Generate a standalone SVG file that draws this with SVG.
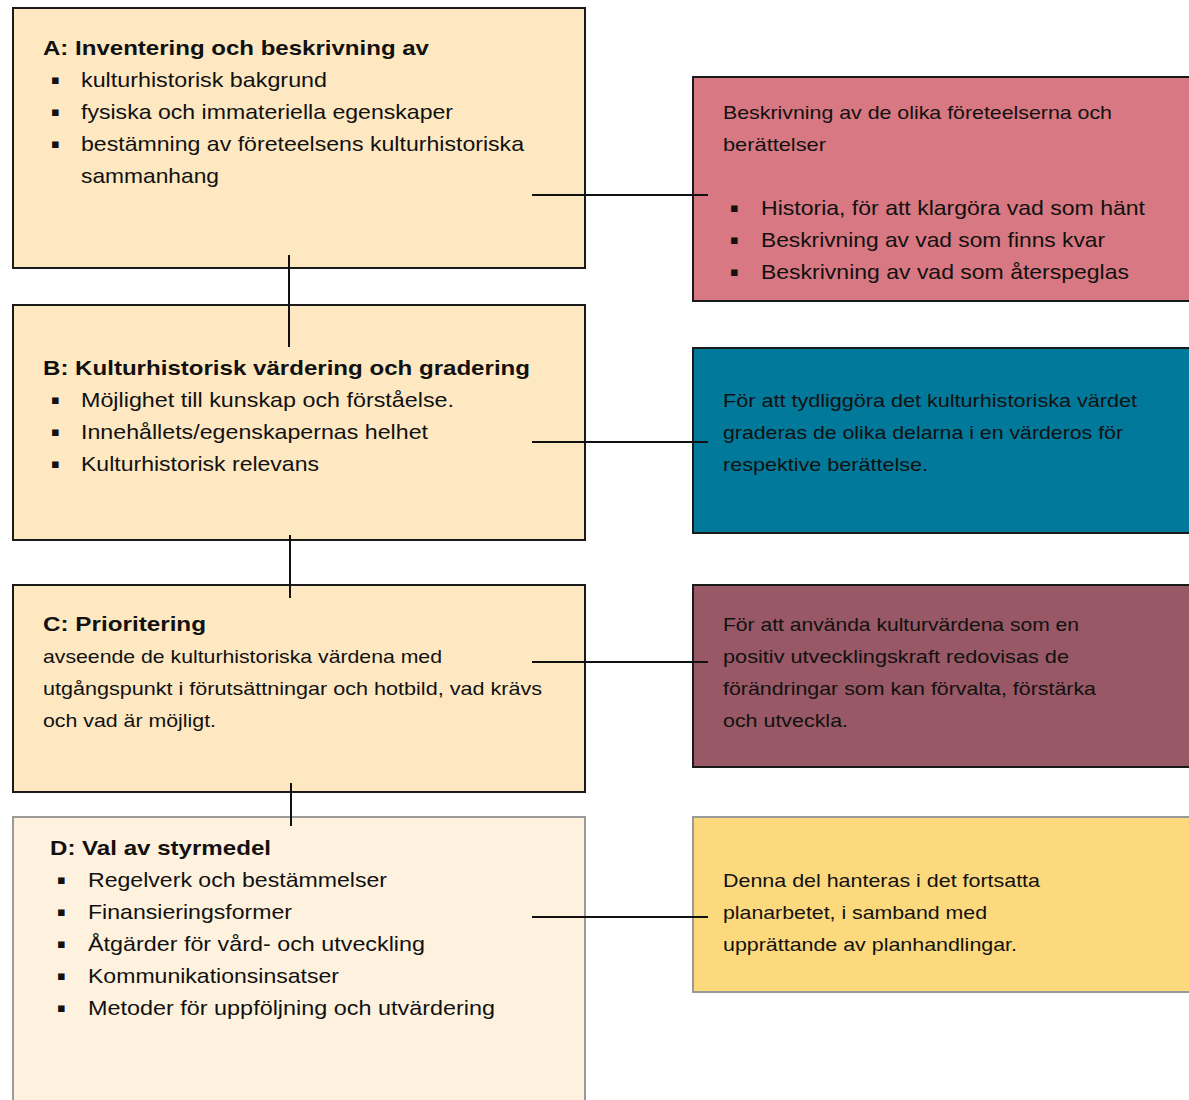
<svg xmlns="http://www.w3.org/2000/svg" width="1189" height="1100" viewBox="0 0 1189 1100">
<style>
.box{stroke:#1a1a1a;stroke-width:2}
.soft{stroke:#9a9a9a;stroke-width:2}
.step{fill:#fee8c2}
text{font-family:"Liberation Sans",Arial,sans-serif;fill:#111}
.t{font-size:21px;font-weight:bold}
.b{font-size:21px}
.s{font-size:18.5px}
.dot{font-family:"DejaVu Sans",sans-serif;font-size:13px}
.con{stroke:#111;stroke-width:2;fill:none}
</style>
<rect width="1189" height="1100" fill="#ffffff"/>
<g id="node-a">
<rect class="box step" x="13" y="8" width="572" height="260"/>
<text class="t" x="43" y="55" textLength="386" lengthAdjust="spacingAndGlyphs">A: Inventering och beskrivning av</text>
<text class="dot" x="51" y="84">▪</text><text class="b" x="81" y="87" textLength="246" lengthAdjust="spacingAndGlyphs">kulturhistorisk bakgrund</text>
<text class="dot" x="51" y="116">▪</text><text class="b" x="81" y="119" textLength="372" lengthAdjust="spacingAndGlyphs">fysiska och immateriella egenskaper</text>
<text class="dot" x="51" y="148">▪</text><text class="b" x="81" y="151" textLength="443" lengthAdjust="spacingAndGlyphs">bestämning av företeelsens kulturhistoriska</text>
<text class="b" x="81" y="183" textLength="138" lengthAdjust="spacingAndGlyphs">sammanhang</text>
</g>
<g id="node-b">
<rect class="box step" x="13" y="305" width="572" height="235"/>
<text class="t" x="43" y="375" textLength="487" lengthAdjust="spacingAndGlyphs">B: Kulturhistorisk värdering och gradering</text>
<text class="dot" x="51" y="404">▪</text><text class="b" x="81" y="407" textLength="373" lengthAdjust="spacingAndGlyphs">Möjlighet till kunskap och förståelse.</text>
<text class="dot" x="51" y="436">▪</text><text class="b" x="81" y="439" textLength="347" lengthAdjust="spacingAndGlyphs">Innehållets/egenskapernas helhet</text>
<text class="dot" x="51" y="468">▪</text><text class="b" x="81" y="471" textLength="238" lengthAdjust="spacingAndGlyphs">Kulturhistorisk relevans</text>
</g>
<g id="node-c">
<rect class="box step" x="13" y="585" width="572" height="207"/>
<text class="t" x="43" y="631" textLength="163" lengthAdjust="spacingAndGlyphs">C: Prioritering</text>
<text class="s" x="43" y="663" textLength="399" lengthAdjust="spacingAndGlyphs">avseende de kulturhistoriska värdena med</text>
<text class="s" x="43" y="695" textLength="499" lengthAdjust="spacingAndGlyphs">utgångspunkt i förutsättningar och hotbild, vad krävs</text>
<text class="s" x="43" y="727" textLength="173" lengthAdjust="spacingAndGlyphs">och vad är möjligt.</text>
</g>
<g id="node-d">
<rect class="soft" fill="#fef2de" x="13" y="817" width="572" height="300"/>
<text class="t" x="50" y="855" textLength="221" lengthAdjust="spacingAndGlyphs">D: Val av styrmedel</text>
<text class="dot" x="57" y="884">▪</text><text class="b" x="88" y="887" textLength="299" lengthAdjust="spacingAndGlyphs">Regelverk och bestämmelser</text>
<text class="dot" x="57" y="916">▪</text><text class="b" x="88" y="919" textLength="204" lengthAdjust="spacingAndGlyphs">Finansieringsformer</text>
<text class="dot" x="57" y="948">▪</text><text class="b" x="88" y="951" textLength="337" lengthAdjust="spacingAndGlyphs">Åtgärder för vård- och utveckling</text>
<text class="dot" x="57" y="980">▪</text><text class="b" x="88" y="983" textLength="251" lengthAdjust="spacingAndGlyphs">Kommunikationsinsatser</text>
<text class="dot" x="57" y="1012">▪</text><text class="b" x="88" y="1015" textLength="407" lengthAdjust="spacingAndGlyphs">Metoder för uppföljning och utvärdering</text>
</g>
<g id="node-r1">
<rect class="box" fill="#d87882" x="693" y="77" width="510" height="224"/>
<text class="s" x="723" y="119" textLength="389" lengthAdjust="spacingAndGlyphs">Beskrivning av de olika företeelserna och</text>
<text class="s" x="723" y="151" textLength="103" lengthAdjust="spacingAndGlyphs">berättelser</text>
<text class="dot" x="730" y="212">▪</text><text class="b" x="761" y="215" textLength="384" lengthAdjust="spacingAndGlyphs">Historia, för att klargöra vad som hänt</text>
<text class="dot" x="730" y="244">▪</text><text class="b" x="761" y="247" textLength="344" lengthAdjust="spacingAndGlyphs">Beskrivning av vad som finns kvar</text>
<text class="dot" x="730" y="276">▪</text><text class="b" x="761" y="279" textLength="368" lengthAdjust="spacingAndGlyphs">Beskrivning av vad som återspeglas</text>
</g>
<g id="node-r2">
<rect class="box" fill="#00799a" x="693" y="348" width="510" height="185"/>
<text class="s" x="723" y="407" textLength="414" lengthAdjust="spacingAndGlyphs">För att tydliggöra det kulturhistoriska värdet</text>
<text class="s" x="723" y="439" textLength="400" lengthAdjust="spacingAndGlyphs">graderas de olika delarna i en värderos för</text>
<text class="s" x="723" y="471" textLength="205" lengthAdjust="spacingAndGlyphs">respektive berättelse.</text>
</g>
<g id="node-r3">
<rect class="box" fill="#985865" x="693" y="585" width="510" height="182"/>
<text class="s" x="723" y="631" textLength="356" lengthAdjust="spacingAndGlyphs">För att använda kulturvärdena som en</text>
<text class="s" x="723" y="663" textLength="346" lengthAdjust="spacingAndGlyphs">positiv utvecklingskraft redovisas de</text>
<text class="s" x="723" y="695" textLength="373" lengthAdjust="spacingAndGlyphs">förändringar som kan förvalta, förstärka</text>
<text class="s" x="723" y="727" textLength="125" lengthAdjust="spacingAndGlyphs">och utveckla.</text>
</g>
<g id="node-r4">
<rect class="soft" fill="#fcd97d" x="693" y="817" width="510" height="175"/>
<text class="s" x="723" y="887" textLength="317" lengthAdjust="spacingAndGlyphs">Denna del hanteras i det fortsatta</text>
<text class="s" x="723" y="919" textLength="264" lengthAdjust="spacingAndGlyphs">planarbetet, i samband med</text>
<text class="s" x="723" y="951" textLength="294" lengthAdjust="spacingAndGlyphs">upprättande av planhandlingar.</text>
</g>
<g id="connectors">
<line class="con" x1="289" y1="255" x2="289" y2="347"/>
<line class="con" x1="290" y1="535" x2="290" y2="598"/>
<line class="con" x1="291" y1="783" x2="291" y2="826"/>
<line class="con" x1="532" y1="195" x2="708" y2="195"/>
<line class="con" x1="532" y1="442" x2="708" y2="442"/>
<line class="con" x1="532" y1="662" x2="708" y2="662"/>
<line class="con" x1="532" y1="917" x2="708" y2="917"/>
</g>
</svg>
